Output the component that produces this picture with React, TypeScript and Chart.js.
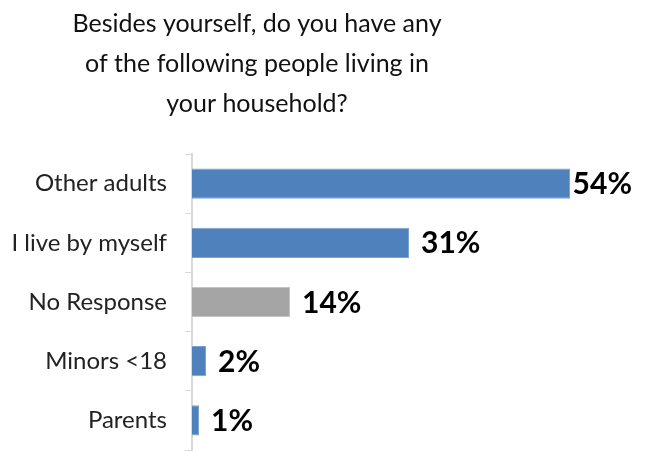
import React, { useEffect, useRef } from "react";
import { Chart, registerables } from "chart.js";

Chart.register(...registerables);

const categories = ["Other adults", "I live by myself", "No Response", "Minors <18", "Parents"];
const shares = [54, 31, 14, 2, 1];
const barColors = ["#4F81BD", "#4F81BD", "#A5A5A5", "#4F81BD", "#4F81BD"];
const barEdges = ["#7DA2D0", "#7DA2D0", "#C4C4C4", "#7DA2D0", "#7DA2D0"];
const titleLines = [
  "Besides yourself, do you have any",
  "of the following people living in",
  "your household?",
];

const FONT = "Lato, 'Open Sans', 'DejaVu Sans', sans-serif";

// Multi-line heading drawn over the upper band reserved by layout padding
const headingPlugin = {
  id: "heading",
  afterDraw(chart: any) {
    const ctx = chart.ctx;
    ctx.save();
    ctx.font = `25px ${FONT}`;
    ctx.fillStyle = "#111111";
    ctx.textAlign = "center";
    ctx.textBaseline = "alphabetic";
    titleLines.forEach((line, i) => {
      ctx.fillText(line, 257, 32 + i * 40);
    });
    ctx.restore();
  },
};

// Percent labels just past the end of each bar, kept inside the canvas
const valueLabelPlugin = {
  id: "valueLabels",
  afterDatasetsDraw(chart: any) {
    const ctx = chart.ctx;
    const meta = chart.getDatasetMeta(0);
    ctx.save();
    ctx.font = `bold 30px ${FONT}`;
    ctx.fillStyle = "#000000";
    ctx.textAlign = "left";
    ctx.textBaseline = "middle";
    meta.data.forEach((bar: any, i: number) => {
      const text = `${shares[i]}%`;
      const w = ctx.measureText(text).width;
      const x = Math.min(bar.x + 12, chart.width - 16 - w);
      ctx.fillText(text, x, bar.y + 1);
    });
    ctx.restore();
  },
};

export default function App() {
  const canvasRef = useRef<HTMLCanvasElement | null>(null);

  useEffect(() => {
    document.body.style.margin = "0";
    const canvas = canvasRef.current;
    if (!canvas) return;
    const chart = new Chart(canvas, {
      type: "bar",
      data: {
        labels: categories,
        datasets: [
          {
            data: shares,
            backgroundColor: barColors,
            borderColor: barEdges,
            borderWidth: 1,
            barPercentage: 0.51,
            categoryPercentage: 1,
          },
        ],
      },
      options: {
        indexAxis: "y",
        responsive: false,
        animation: false,
        layout: { padding: { top: 154, right: 36, bottom: 2, left: 0 } },
        plugins: {
          legend: { display: false },
          title: { display: false },
          tooltip: { enabled: false },
        },
        scales: {
          x: { display: false, min: 0, max: 60 },
          y: {
            afterFit(scale: any) {
              scale.width = 192;
              // category labels sit mid-band, so no extra room above/below the axis
              scale.paddingTop = 0;
              scale.paddingBottom = 0;
            },
            grid: {
              drawOnChartArea: false,
              drawTicks: true,
              tickLength: 7,
              color: "#D9D9D9",
              lineWidth: 1,
              offset: true,
            },
            border: { display: true, color: "#D9D9D9", width: 2 },
            ticks: {
              padding: 18,
              color: "#222222",
              font: { family: FONT, size: 24 },
            },
          },
        },
      },
      plugins: [headingPlugin, valueLabelPlugin],
    });
    return () => chart.destroy();
  }, []);

  return (
    <div style={{ width: 648, height: 452, background: "#ffffff" }}>
      <canvas ref={canvasRef} width={648} height={452} />
    </div>
  );
}
